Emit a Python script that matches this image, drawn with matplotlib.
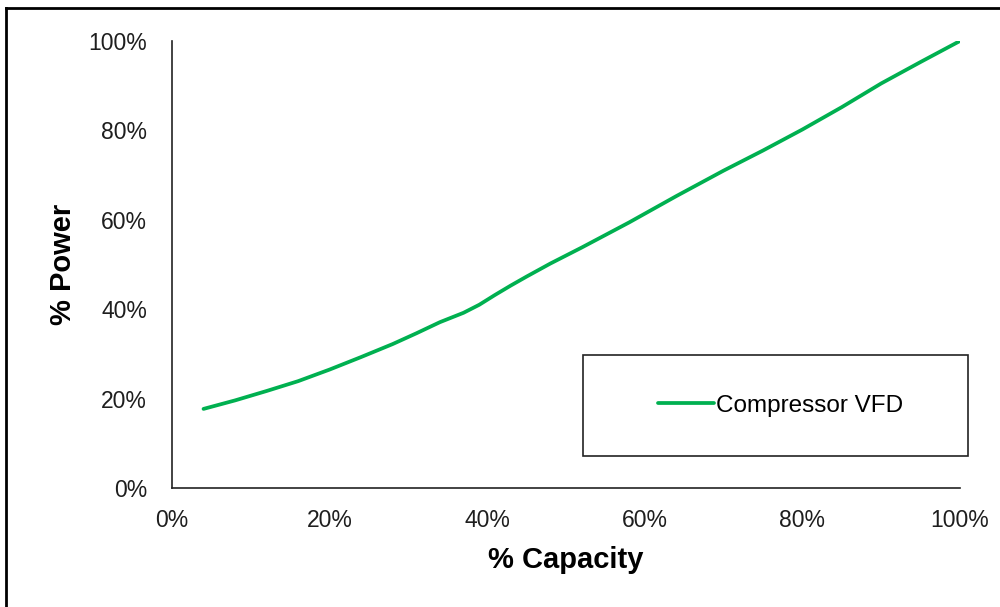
import matplotlib.pyplot as plt
from matplotlib.lines import Line2D
from matplotlib.patches import Rectangle
from matplotlib.ticker import PercentFormatter

plt.rcParams['font.family'] = ['Liberation Sans', 'DejaVu Sans']

# compressor part-load curve (% capacity vs % power)
capacity = [4, 8, 12, 16, 20, 24, 28, 31, 34, 37, 39, 41, 43, 45, 48, 52,
            58, 64, 70, 75, 80, 85, 90, 95, 100]
power = [17.7, 19.6, 21.7, 23.9, 26.5, 29.3, 32.2, 34.6, 37.1, 39.2, 41.0, 43.2,
         45.3, 47.3, 50.2, 53.8, 59.4, 65.3, 71.0, 75.5, 80.2, 85.2, 90.5, 95.3, 100]
series_name = "Compressor VFD"

fig = plt.figure(figsize=(10, 6.07), dpi=100)
ax = fig.add_axes([0.172, 0.196, 0.788, 0.7365])

ax.plot(capacity, power, color="#00B050", lw=2.7, label=series_name,
        solid_capstyle="round", solid_joinstyle="round")

ax.set_xlim(0, 100)
ax.set_ylim(0, 100)
ax.set_xticks(range(0, 101, 20))
ax.set_yticks(range(0, 101, 20))
ax.xaxis.set_major_formatter(PercentFormatter(decimals=0))
ax.yaxis.set_major_formatter(PercentFormatter(decimals=0))
ax.tick_params(length=0, labelsize=16.5, colors="#1e1e1e")
ax.tick_params(axis="y", pad=18)
ax.tick_params(axis="x", pad=15)

for side in ("top", "right"):
    ax.spines[side].set_visible(False)
for side in ("left", "bottom"):
    ax.spines[side].set_color("#222222")
    ax.spines[side].set_linewidth(1.2)

ax.set_xlabel("% Capacity", fontsize=21, fontweight="bold", labelpad=10)
ax.set_ylabel("% Power", fontsize=21, fontweight="bold", labelpad=8)

# legend inside a plain box
ax.add_patch(Rectangle((0.5216, 0.0716), 0.4884, 0.2259, transform=ax.transAxes,
                       fill=False, ec="#222222", lw=1.2, clip_on=False))
ax.legend(loc="center", bbox_to_anchor=(0.772, 0.1846), frameon=False,
          fontsize=17.5, handlelength=2.3, handletextpad=0.1)

# outer border (left and top)
fig.add_artist(Line2D([0.006, 0.006], [0, 0.987], transform=fig.transFigure, color="black", lw=2))
fig.add_artist(Line2D([0.006, 1], [0.987, 0.987], transform=fig.transFigure, color="black", lw=2))

fig.savefig("out.png", dpi=100, facecolor="white")
